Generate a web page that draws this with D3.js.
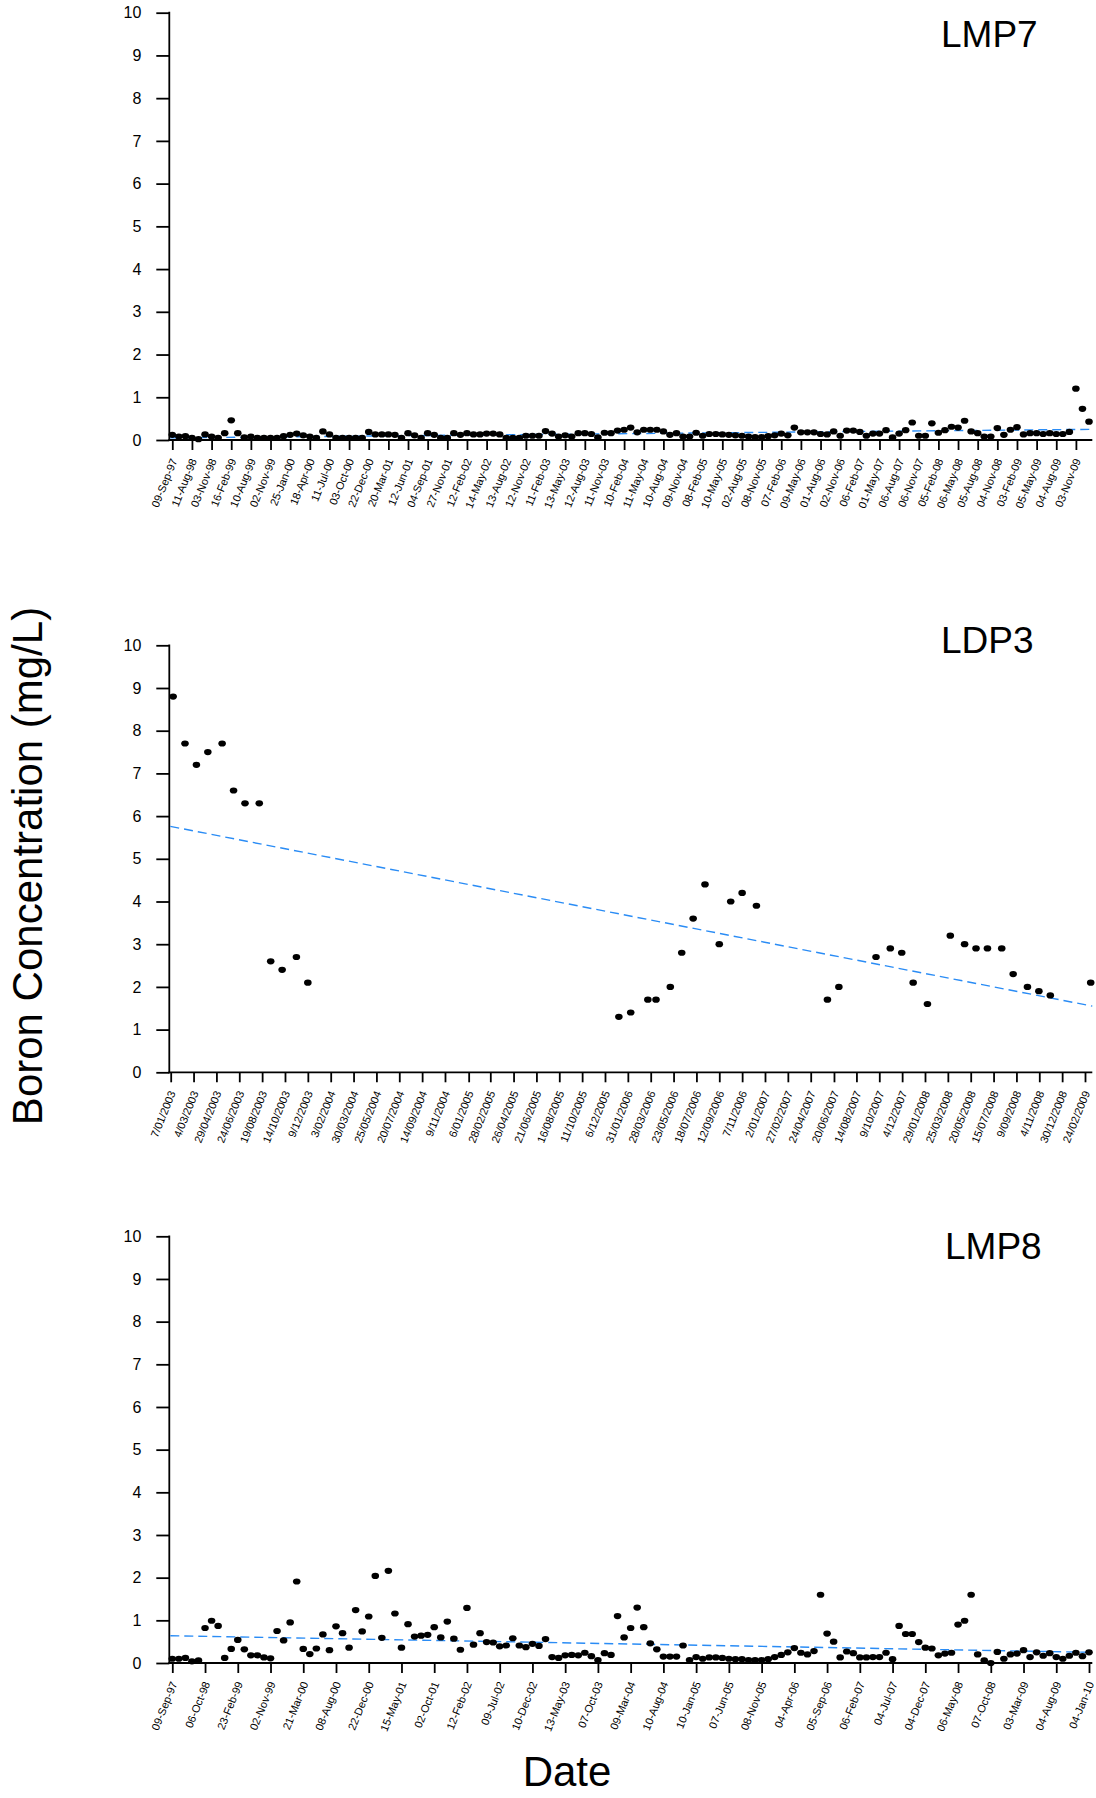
<!DOCTYPE html>
<html>
<head>
<meta charset="utf-8">
<script src="https://cdn.jsdelivr.net/npm/d3@7"></script>
<style>
  body { margin: 0; background: #fff; }
  svg { display: block; }
  text { font-family: "Liberation Sans", Arial, Helvetica, sans-serif; fill: #000; }
</style>
</head>
<body>
<svg id="chart" width="1096" height="1798"></svg>
<script>
// ---- LMP7: monthly samples, every third sample date labelled ----
const lmp7Labels = ["09-Sep-97","11-Aug-98","03-Nov-98","16-Feb-99","10-Aug-99","02-Nov-99","25-Jan-00","18-Apr-00",
  "11-Jul-00","03-Oct-00","22-Dec-00","20-Mar-01","12-Jun-01","04-Sep-01","27-Nov-01","12-Feb-02","14-May-02",
  "13-Aug-02","12-Nov-02","11-Feb-03","13-May-03","12-Aug-03","11-Nov-03","10-Feb-04","11-May-04","10-Aug-04",
  "09-Nov-04","08-Feb-05","10-May-05","02-Aug-05","08-Nov-05","07-Feb-06","09-May-06","01-Aug-06","02-Nov-06",
  "06-Feb-07","01-May-07","06-Aug-07","06-Nov-07","05-Feb-08","06-May-08","05-Aug-08","04-Nov-08","03-Feb-09",
  "05-May-09","04-Aug-09","03-Nov-09"];
const lmp7Values = [0.12,0.08,0.09,0.05,0.02,0.13,0.08,0.05,0.16,0.46,0.16,0.06,0.08,0.05,0.05,0.05,0.05,0.09,0.12,0.15,
  0.11,0.08,0.05,0.20,0.13,0.05,0.05,0.05,0.05,0.05,0.19,0.13,0.13,0.13,0.12,0.05,0.16,0.11,0.05,0.16,
  0.12,0.05,0.05,0.16,0.12,0.16,0.13,0.13,0.15,0.15,0.13,0.05,0.05,0.05,0.10,0.10,0.10,0.21,0.15,0.08,
  0.11,0.08,0.16,0.16,0.14,0.06,0.17,0.16,0.22,0.24,0.29,0.18,0.24,0.24,0.24,0.20,0.12,0.16,0.08,0.08,
  0.17,0.10,0.14,0.14,0.13,0.12,0.11,0.10,0.08,0.07,0.07,0.09,0.11,0.15,0.11,0.29,0.18,0.18,0.18,0.14,
  0.13,0.20,0.10,0.22,0.22,0.19,0.10,0.15,0.15,0.23,0.06,0.15,0.23,0.41,0.10,0.10,0.39,0.17,0.23,0.31,
  0.29,0.45,0.20,0.16,0.08,0.08,0.28,0.12,0.24,0.30,0.13,0.16,0.16,0.14,0.16,0.14,0.14,0.19,1.20,0.73,0.43];
const lmp7LabelStep = 3;
const lmp7Trend = [0.05, 0.25];

// ---- LDP3: date axis with 8-weekly ticks ----
const ldp3TickLabels = ["7/01/2003","4/03/2003","29/04/2003","24/06/2003","19/08/2003","14/10/2003","9/12/2003",
  "3/02/2004","30/03/2004","25/05/2004","20/07/2004","14/09/2004","9/11/2004","6/01/2005","28/02/2005","26/04/2005",
  "21/06/2005","16/08/2005","11/10/2005","6/12/2005","31/01/2006","28/03/2006","23/05/2006","18/07/2006","12/09/2006",
  "7/11/2006","2/01/2007","27/02/2007","24/04/2007","20/06/2007","14/08/2007","9/10/2007","4/12/2007","29/01/2008",
  "25/03/2008","20/05/2008","15/07/2008","9/09/2008","4/11/2008","30/12/2008","24/02/2009"];
const ldp3Dates = ["2003-01-13","2003-02-11","2003-03-11","2003-04-08","2003-05-13","2003-06-10","2003-07-08",
  "2003-08-12","2003-09-09","2003-10-07","2003-11-11","2003-12-09",
  "2006-01-09","2006-02-07","2006-03-21","2006-04-10","2006-05-15","2006-06-12","2006-07-10","2006-08-08",
  "2006-09-12","2006-10-10","2006-11-07","2006-12-12",
  "2007-06-04","2007-07-02","2007-10-01","2007-11-05","2007-12-03","2007-12-31","2008-02-04","2008-03-31",
  "2008-05-05","2008-06-02","2008-06-30","2008-08-04","2008-09-01","2008-10-06","2008-11-03","2008-12-01","2009-03-10"];
const ldp3Values = [8.8,7.7,7.2,7.5,7.7,6.6,6.3,6.3,2.6,2.4,2.7,2.1,
  1.3,1.4,1.7,1.7,2.0,2.8,3.6,4.4,3.0,4.0,4.2,3.9,
  1.7,2.0,2.7,2.9,2.8,2.1,1.6,3.2,3.0,2.9,2.9,2.9,2.3,2.0,1.9,1.8,2.1];
const ldp3Trend = [5.76, 1.55];

// ---- LMP8: monthly samples, every fifth sample date labelled ----
const lmp8Labels = ["09-Sep-97","06-Oct-98","23-Feb-99","02-Nov-99","21-Mar-00","08-Aug-00","22-Dec-00","15-May-01",
  "02-Oct-01","12-Feb-02","09-Jul-02","10-Dec-02","13-May-03","07-Oct-03","09-Mar-04","10-Aug-04","10-Jan-05",
  "07-Jun-05","08-Nov-05","04-Apr-06","05-Sep-06","06-Feb-07","04-Jul-07","04-Dec-07","06-May-08","07-Oct-08",
  "03-Mar-09","04-Aug-09","04-Jan-10"];
const lmp8Values = [0.10,0.10,0.12,0.04,0.06,0.82,0.99,0.87,0.12,0.33,0.54,0.32,0.18,0.18,0.13,0.11,0.75,0.53,0.95,1.91,
  0.33,0.21,0.34,0.67,0.30,0.86,0.70,0.36,1.24,0.74,1.09,2.04,0.59,2.16,1.16,0.36,0.91,0.62,0.64,0.66,
  0.84,0.60,0.97,0.57,0.31,1.29,0.43,0.70,0.49,0.48,0.39,0.41,0.58,0.41,0.37,0.45,0.40,0.56,0.14,0.12,
  0.18,0.19,0.18,0.24,0.16,0.07,0.23,0.19,1.10,0.60,0.82,1.30,0.84,0.46,0.32,0.15,0.15,0.15,0.41,0.07,
  0.14,0.10,0.13,0.13,0.12,0.10,0.09,0.09,0.07,0.07,0.07,0.09,0.14,0.19,0.25,0.35,0.24,0.20,0.28,1.60,
  0.69,0.50,0.13,0.27,0.23,0.13,0.13,0.14,0.14,0.24,0.09,0.87,0.68,0.68,0.49,0.36,0.34,0.18,0.22,0.24,
  0.90,0.99,1.60,0.20,0.06,0.00,0.26,0.10,0.20,0.22,0.30,0.14,0.25,0.17,0.23,0.14,0.10,0.17,0.24,0.16,0.25];
const lmp8LabelStep = 5;
const lmp8Trend = [0.64, 0.25];

const yTicks = [0,1,2,3,4,5,6,7,8,9,10];
const yTitle = "Boron Concentration (mg/L)";
const xTitle = "Date";

// ---- layout ----
const plotLeft = 169.3, plotRight = 1092.3;
const firstX = 172.3, lastX = 1089;
const parseDay = d3.timeParse("%d/%m/%Y");
const parseIso = d3.timeParse("%Y-%m-%d");

const svg = d3.select("#chart");

function drawPanel(p) {
  const g = svg.append("g");
  const y = d3.scaleLinear().domain([0, 10]).range([p.bottom, p.top]);

  // y axis
  const yAxis = g.append("g").attr("transform", `translate(${plotLeft},0)`)
    .call(d3.axisLeft(y).tickValues(yTicks).tickSize(13).tickPadding(15).tickFormat(d3.format("d")));
  yAxis.select(".domain").remove();
  yAxis.selectAll(".tick line").attr("stroke", "#000").attr("stroke-width", 1.8);
  yAxis.selectAll(".tick text").style("font-size", "16px").attr("font-family", null);
  g.append("line").attr("x1", plotLeft).attr("x2", plotLeft)
    .attr("y1", p.top - 0.9).attr("y2", p.bottom + 0.9)
    .attr("stroke", "#000").attr("stroke-width", 1.8);

  // x axis
  const xAxis = g.append("g").attr("transform", `translate(0,${p.bottom})`)
    .call(d3.axisBottom(p.x).tickValues(p.tickValues).tickSize(10).tickFormat(p.tickFormat));
  xAxis.select(".domain").remove();
  xAxis.selectAll(".tick line").attr("stroke", "#000").attr("stroke-width", 1.8);
  xAxis.selectAll(".tick text")
    .attr("x", null).attr("y", null).attr("dy", null)
    .attr("text-anchor", "end")
    .attr("dominant-baseline", "central")
    .attr("transform", "translate(1,19) rotate(-68)")
    .attr("font-family", null)
    .style("font-size", "11px");
  g.append("line").attr("x1", plotLeft - 0.9).attr("x2", plotRight)
    .attr("y1", p.bottom).attr("y2", p.bottom)
    .attr("stroke", "#000").attr("stroke-width", 1.8);

  // linear trend
  g.append("line")
    .attr("x1", plotLeft + 1).attr("x2", plotRight)
    .attr("y1", y(p.trend[0])).attr("y2", y(p.trend[1]))
    .attr("stroke", "#2a8cf5").attr("stroke-width", 1.4)
    .attr("stroke-dasharray", "9,5");

  // samples
  g.append("g").selectAll("ellipse").data(p.values).join("ellipse")
    .attr("cx", (d, i) => p.xOf(i))
    .attr("cy", d => y(d))
    .attr("rx", 3.8).attr("ry", 3.1)
    .attr("fill", "#000");

  // panel title
  g.append("text").attr("x", p.titleX).attr("y", p.titleY)
    .style("font-size", "37px").text(p.title);
}

// LMP7
const x7 = d3.scalePoint().domain(d3.range(lmp7Values.length)).range([firstX, lastX]);
drawPanel({
  title: "LMP7", top: 12.7, bottom: 440, titleX: 941, titleY: 47,
  x: x7, xOf: i => x7(i), values: lmp7Values, trend: lmp7Trend,
  tickValues: lmp7Labels.map((_, k) => k * lmp7LabelStep),
  tickFormat: d => lmp7Labels[d / lmp7LabelStep]
});

// LDP3
const ldp3Ticks = ldp3TickLabels.map(parseDay);
const x3 = d3.scaleTime().domain([ldp3Ticks[0], ldp3Ticks[ldp3Ticks.length - 1]]).range([170.7, 1085]);
const ldp3X = ldp3Dates.map(parseIso);
drawPanel({
  title: "LDP3", top: 645.3, bottom: 1072.3, titleX: 941, titleY: 653,
  x: x3, xOf: i => x3(ldp3X[i]), values: ldp3Values, trend: ldp3Trend,
  tickValues: ldp3Ticks,
  tickFormat: (d, i) => ldp3TickLabels[i]
});

// LMP8
const x8 = d3.scalePoint().domain(d3.range(lmp8Values.length)).range([firstX, lastX]);
drawPanel({
  title: "LMP8", top: 1236.3, bottom: 1663, titleX: 945, titleY: 1259,
  x: x8, xOf: i => x8(i), values: lmp8Values, trend: lmp8Trend,
  tickValues: lmp8Labels.map((_, k) => k * lmp8LabelStep),
  tickFormat: d => lmp8Labels[d / lmp8LabelStep]
});

// axis titles
svg.append("text")
  .attr("transform", "translate(42,866) rotate(-90)")
  .attr("text-anchor", "middle")
  .style("font-size", "42px")
  .text(yTitle);
svg.append("text")
  .attr("x", 567).attr("y", 1786)
  .attr("text-anchor", "middle")
  .style("font-size", "42px")
  .text(xTitle);
</script>
</body>
</html>
